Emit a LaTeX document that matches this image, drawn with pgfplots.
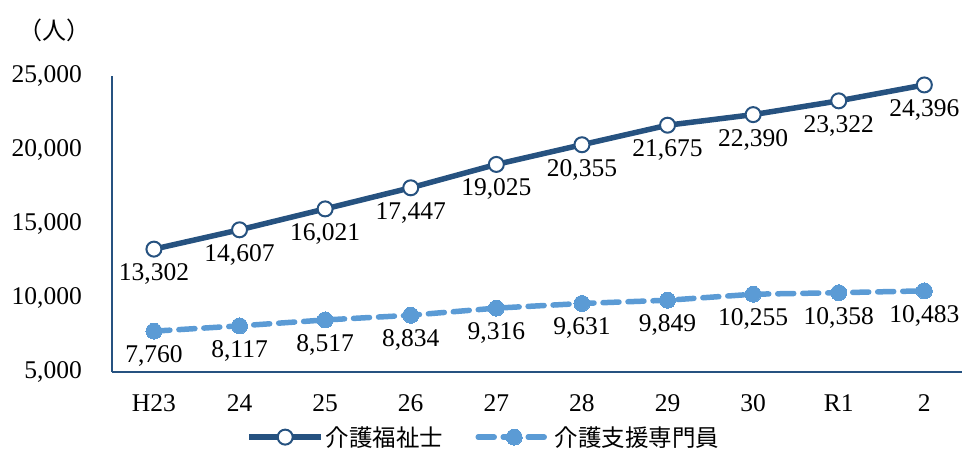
\documentclass[border=0pt]{standalone}
\usepackage{fontspec}
\setmainfont{Liberation Serif}
\newfontfamily\jp{Noto Sans CJK JP}
\usepackage{pgfplots}
\pgfplotsset{compat=1.18}
\definecolor{dk}{RGB}{38,82,128}
\definecolor{lt}{RGB}{91,155,213}
\begin{document}
\begin{tikzpicture}[x=1pt,y=1pt]
\path[use as bounding box] (-112,-76) rectangle (850,372);
\begin{axis}[
  at={(0,0)}, anchor=south west,
  width=850pt, height=296pt, scale only axis,
  xmin=-0.49, xmax=9.44, ymin=5000, ymax=25000,
  axis x line=bottom, axis y line=left,
  axis line style={-, draw=dk, line width=1.6pt},
  xtick={0,...,9},
  xticklabels={H23,24,25,26,27,28,29,30,R1,2},
  ytick={5000,10000,15000,20000,25000},
  scaled y ticks=false,
  yticklabel={\pgfmathprintnumber[fixed,precision=0]{\tick}},
  major tick length=0pt,
  /pgf/number format/.cd, 1000 sep={,}, assume math mode=true,
  /pgfplots/.cd,
  tick label style={font=\fontsize{25.5}{29}\selectfont, inner sep=0pt},
  xticklabel style={anchor=center, yshift=-31pt},
  yticklabel style={anchor=east, xshift=-30pt},
  clip=false,
  nodes near coords,
  every node near coord/.append style={font=\fontsize{25.5}{29}\selectfont, anchor=center, yshift=-25pt, inner sep=0pt, text=black},
  legend columns=2,
  legend style={at={(0.4376,-0.22)}, anchor=center, draw=none, fill=none,
    font=\jp\fontsize{23.5}{27}\selectfont, /tikz/every even column/.append style={column sep=30pt}},
  legend image code/.code={\draw[mark repeat=2,mark phase=2] plot coordinates {(0pt,0pt) (36pt,0pt) (72pt,0pt)};},
]
\addplot[dk, line width=5.5pt, mark=*, mark size=7.5pt, mark options={fill=white, draw=dk, line width=2pt}]
coordinates {(0,13302) (1,14607) (2,16021) (3,17447) (4,19025) (5,20355) (6,21675) (7,22390) (8,23322) (9,24396)};
\addlegendentry{介護福祉士}
\addplot[lt, line width=5.5pt, dash pattern=on 16pt off 9pt, line cap=round, mark=*, mark size=8pt, mark options={solid, fill=lt, draw=lt, line width=0pt}]
coordinates {(0,7760) (1,8117) (2,8517) (3,8834) (4,9316) (5,9631) (6,9849) (7,10255) (8,10358) (9,10483)};
\addlegendentry{介護支援専門員}
\end{axis}
\node[font=\jp\fontsize{24}{28}\selectfont, inner sep=0pt] at (-57,342) {（人）};
\end{tikzpicture}
\end{document}
